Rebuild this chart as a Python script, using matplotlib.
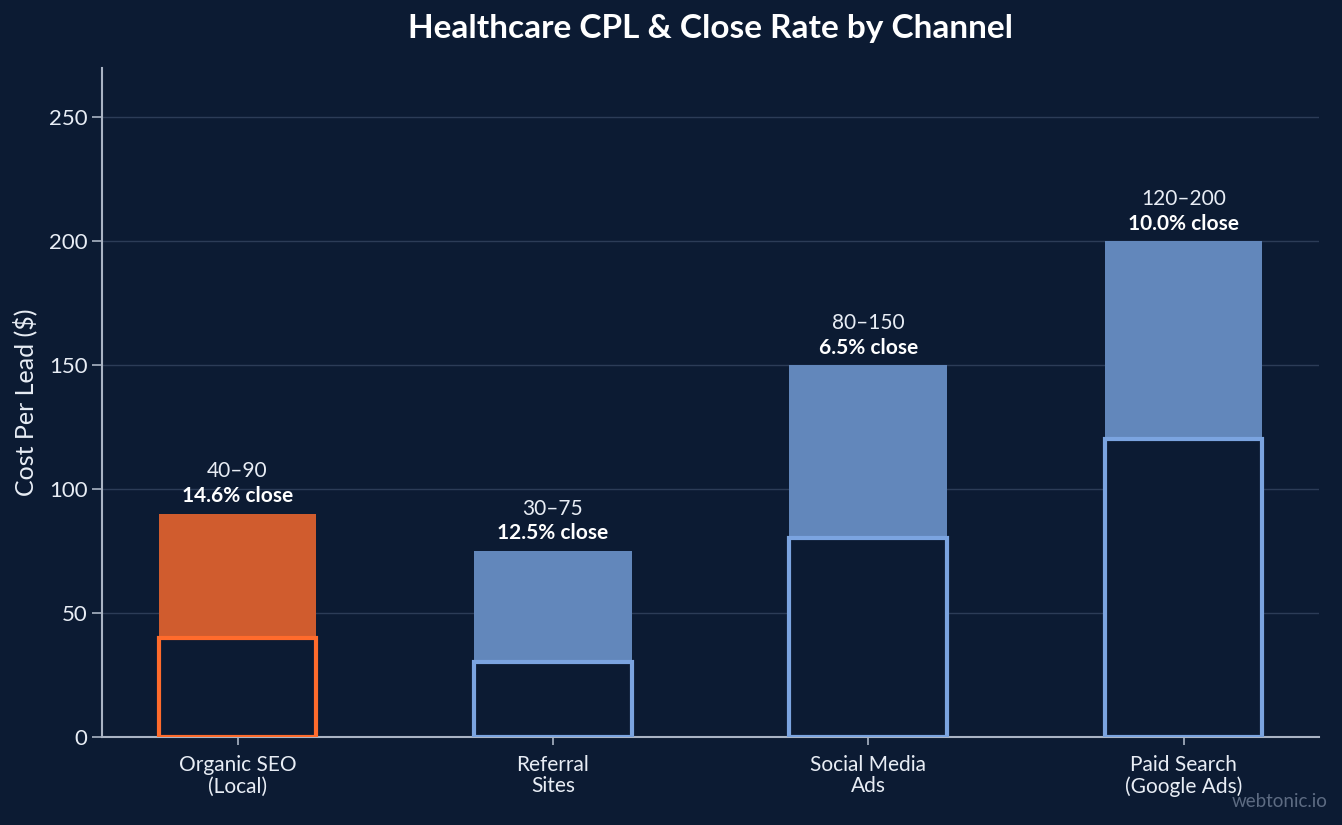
import matplotlib.pyplot as plt

channels = ['Organic SEO\n(Local)', 'Referral\nSites', 'Social Media\nAds', 'Paid Search\n(Google Ads)']
cpl_low = [40, 30, 80, 120]
cpl_high = [90, 75, 150, 200]
close_rate = [14.6, 12.5, 6.5, 10.0]

bg = '#0c1b33'
fills = ['#d05c2e', '#6287bb', '#6287bb', '#6287bb']
edges = ['#ff6b2c', '#7ba4e0', '#7ba4e0', '#7ba4e0']

plt.rcParams['font.family'] = ['Lato', 'DejaVu Sans']

fig = plt.figure(figsize=(13.42, 8.25), dpi=100, facecolor=bg)
ax = fig.add_axes([0.076, 0.107, 0.907, 0.811])
ax.set_facecolor(bg)

x = list(range(len(channels)))
w = 0.5
# range part of the bar
ax.bar(x, [h - l for h, l in zip(cpl_high, cpl_low)], bottom=cpl_low, width=w,
       color=fills, zorder=2)
# outlined box for the low end
ax.bar(x, cpl_low, width=w, color=bg, edgecolor=edges, linewidth=3, zorder=3)

for i in x:
    ax.text(i, cpl_high[i] + 13, '%d\u2013%d' % (cpl_low[i], cpl_high[i]),
            ha='center', va='bottom', color='#e8edf5', fontsize=15)
    ax.text(i, cpl_high[i] + 3, '%.1f%% close' % close_rate[i],
            ha='center', va='bottom', color='white', fontsize=15, fontweight='bold')

ax.set_xlim(-0.43, 3.43)
ax.set_ylim(0, 270)
ax.set_yticks([0, 50, 100, 150, 200, 250])
ax.set_xticks(x)
ax.set_xticklabels(channels, linespacing=1.1)
ax.grid(axis='y', color='#2c3c57', linewidth=1, zorder=0)
ax.set_axisbelow(True)

for s in ['top', 'right']:
    ax.spines[s].set_visible(False)
for s in ['left', 'bottom']:
    ax.spines[s].set_color('#aab4c4')
    ax.spines[s].set_linewidth(1.5)
ax.tick_params(axis='y', colors='#aab4c4', labelcolor='#e8edf5', labelsize=16, length=7, width=1.2)
ax.tick_params(axis='x', colors='#aab4c4', labelcolor='#e8edf5', labelsize=15, length=6, width=1.2, pad=7)

ax.set_ylabel('Cost Per Lead ($)', color='#e8edf5', fontsize=18, labelpad=8)
fig.text(0.5295, 0.965, 'Healthcare CPL & Close Rate by Channel', color='white', fontsize=24,
         fontweight='bold', ha='center', va='center')
fig.text(0.989, 0.018, 'webtonic.io', color='#5d6b82', fontsize=13.5, ha='right', va='bottom')

fig.savefig('out.png', facecolor=bg)
